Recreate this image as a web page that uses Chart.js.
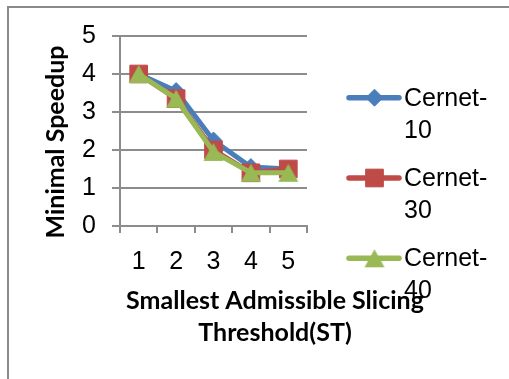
<!DOCTYPE html>
<html>
<head>
<meta charset="utf-8">
<title>Minimal Speedup vs Smallest Admissible Slicing Threshold</title>
<script src="https://cdn.jsdelivr.net/npm/chart.js@4/dist/chart.umd.min.js"></script>
<style>
  html, body { margin: 0; padding: 0; background: #fff; overflow: hidden; }
  #frame {
    position: absolute; left: 7px; top: 6px; width: 620px; height: 500px;
    border-left: 2px solid #8a8a8a; border-top: 2px solid #8a8a8a;
  }
  #chart { position: absolute; left: 0; top: 0; }
</style>
</head>
<body>
<div id="frame"></div>
<canvas id="chart" width="509" height="379"></canvas>
<script>
// Slicing thresholds (x axis categories)
const categories = ['1', '2', '3', '4', '5'];

// Minimal speedup per topology
const cernet10 = [4.0, 3.55, 2.25, 1.55, 1.5];
const cernet30 = [4.0, 3.35, 2.0, 1.4, 1.5];
const cernet40 = [4.0, 3.35, 1.95, 1.4, 1.4];

const seriesNames = ['Cernet-10', 'Cernet-30', 'Cernet-40'];
const yTickValues = [0, 1, 2, 3, 4, 5];

const xTitleLines = ['Smallest Admissible Slicing', 'Threshold(ST)'];
const yTitle = 'Minimal Speedup';

const COLORS = ['#4A7EBB', '#BE4B48', '#98B954'];
const GRID = '#8c8c8c';
const REG_FONT = '"Liberation Sans", Arial, sans-serif';
const BOLD_FONT = 'Lato, "Liberation Sans", sans-serif';

// Triangle marker whose bounding box is centred on the data point
function triangleSprite(color, w, h) {
  const c = document.createElement('canvas');
  c.width = w + 2;
  c.height = h + 2;
  const g = c.getContext('2d');
  g.fillStyle = color;
  g.beginPath();
  g.moveTo(1 + w / 2, 1);
  g.lineTo(1 + w, 1 + h);
  g.lineTo(1, 1 + h);
  g.closePath();
  g.fill();
  return c;
}
const greenTriangle = triangleSprite(COLORS[2], 20, 18);

// Marker shapes for the side legend
function drawMarker(ctx, style, x, y, r, color) {
  if (style instanceof HTMLCanvasElement) {
    ctx.drawImage(style, x - style.width / 2, y - style.height / 2);
    return;
  }
  ctx.save();
  ctx.fillStyle = color;
  ctx.strokeStyle = color;
  ctx.lineWidth = 1;
  ctx.beginPath();
  if (style === 'rectRot') {
    ctx.moveTo(x - r, y);
    ctx.lineTo(x, y - r);
    ctx.lineTo(x + r, y);
    ctx.lineTo(x, y + r);
  } else {
    const s = Math.SQRT1_2 * r;
    ctx.rect(x - s, y - s, 2 * s, 2 * s);
  }
  ctx.closePath();
  ctx.fill();
  ctx.stroke();
  ctx.restore();
}

// Axis titles and the side legend (labels wrap after the hyphen)
const annotations = {
  id: 'annotations',
  afterDraw(chart) {
    const ctx = chart.ctx;
    ctx.save();
    ctx.fillStyle = '#000';

    // x-axis title, two lines
    ctx.font = 'bold 25px ' + BOLD_FONT;
    ctx.textAlign = 'center';
    ctx.textBaseline = 'middle';
    xTitleLines.forEach((t, i) => ctx.fillText(t, 275, 301 + i * 32));

    // y-axis title, rotated
    ctx.save();
    ctx.translate(56, 142);
    ctx.rotate(-Math.PI / 2);
    ctx.font = 'bold 25px ' + BOLD_FONT;
    ctx.fillText(yTitle, 0, 0);
    ctx.restore();

    // legend
    chart.data.datasets.forEach((ds, i) => {
      const y = 97.7 + i * 80.3;
      ctx.save();
      ctx.strokeStyle = ds.borderColor;
      ctx.lineWidth = 5.5;
      ctx.lineCap = 'round';
      ctx.beginPath();
      ctx.moveTo(349, y);
      ctx.lineTo(399, y);
      ctx.stroke();
      ctx.restore();
      drawMarker(ctx, ds.pointStyle, 374.5, y, ds.pointRadius, ds.borderColor);

      const cut = ds.label.indexOf('-') + 1;
      const lines = [ds.label.slice(0, cut), ds.label.slice(cut)];
      ctx.font = '25px ' + REG_FONT;
      ctx.textAlign = 'left';
      ctx.textBaseline = 'middle';
      ctx.fillStyle = '#000';
      lines.forEach((t, k) => ctx.fillText(t, 404, y + 1 + k * 32));
    });
    ctx.restore();
  }
};

function series(i, data, style, radius, order) {
  return {
    label: seriesNames[i],
    data: data,
    borderColor: COLORS[i],
    backgroundColor: COLORS[i],
    pointBackgroundColor: COLORS[i],
    pointBorderColor: COLORS[i],
    pointBorderWidth: 1,
    borderWidth: 5,
    pointStyle: style,
    pointRadius: radius,
    pointHoverRadius: radius,
    tension: 0,
    fill: false,
    order: order
  };
}

new Chart(document.getElementById('chart'), {
  type: 'line',
  data: {
    labels: categories,
    datasets: [
      series(0, cernet10, 'rectRot', 8.5, 2),
      series(1, cernet30, 'rect', 12.5, 1),
      series(2, cernet40, greenTriangle, 10, 0)
    ]
  },
  options: {
    responsive: false,
    animation: false,
    devicePixelRatio: 1,
    layout: { padding: { left: 80, right: 202, top: 36, bottom: 103 } },
    plugins: { legend: { display: false }, tooltip: { enabled: false } },
    scales: {
      x: {
        type: 'category',
        offset: true,
        grid: { offset: true, drawOnChartArea: false, drawTicks: true, tickLength: 7, color: GRID, lineWidth: 2 },
        border: { color: GRID, width: 2 },
        ticks: { color: '#000', font: { family: REG_FONT, size: 25 }, padding: 14, maxRotation: 0 },
        afterFit(s) { s.height = 50; }
      },
      y: {
        min: 0,
        max: 5,
        afterBuildTicks(s) { s.ticks = yTickValues.map(v => ({ value: v })); },
        grid: { tickLength: 8, color: GRID, lineWidth: 2 },
        border: { color: GRID, width: 2 },
        ticks: { color: '#000', font: { family: REG_FONT, size: 25 }, padding: 16 },
        afterFit(s) { s.width = 40; }
      }
    }
  },
  plugins: [annotations]
});
</script>
</body>
</html>
